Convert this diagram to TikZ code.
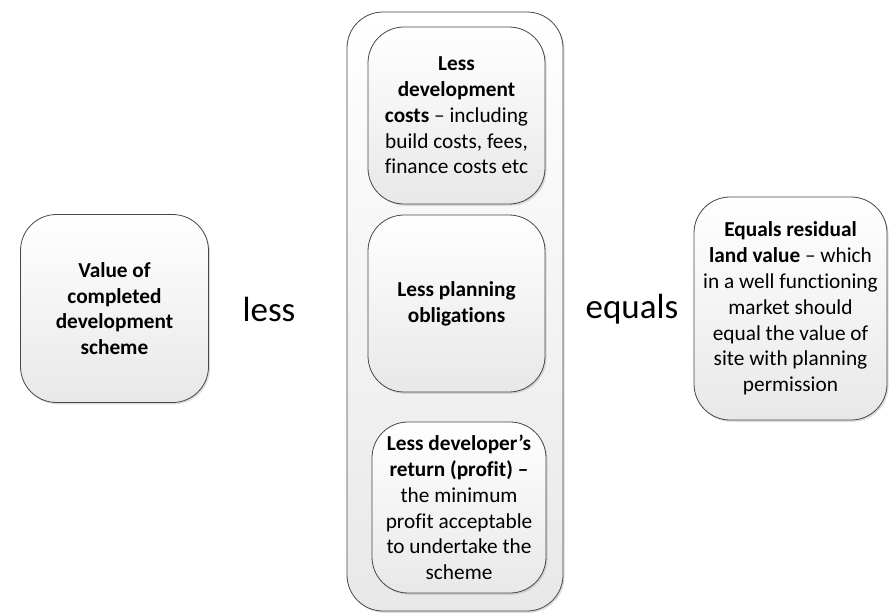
\documentclass[tikz,border=0pt]{standalone}
\usepackage{fontspec}
\setmainfont{Carlito}[Ligatures=NoCommon]
\usetikzlibrary{shadows}
\begin{document}
\begin{tikzpicture}[x=1pt,y=-1pt,
  box/.style={draw=black!72, line width=0.8pt, rounded corners=36pt,
    top color=white, bottom color=black!9, align=center, inner sep=0pt,
    drop shadow={shadow xshift=1.5pt, shadow yshift=-1.8pt, fill=black!30, opacity=0.45}},
  boxtext/.style={font=\fontsize{21.3}{25.8}\selectfont},
  bigword/.style={font=\fontsize{35}{40}\selectfont, inner sep=0pt}]
\useasboundingbox (0,0) rectangle (890,613);
\node[box, boxtext, minimum width=188pt, minimum height=188pt] (value) at (114.5,308.5)
  {\textbf{Value of}\\\textbf{completed}\\\textbf{development}\\\textbf{scheme}};
\node[bigword] (less) at (269,309) {less};
\node[box, minimum width=216pt, minimum height=599pt] (outer) at (455,311.5) {};
\node[box, boxtext, minimum width=177pt, minimum height=177pt] (costs) at (456.5,115.5)
  {\textbf{Less}\\\textbf{development}\\\textbf{costs} – including\\build costs, fees,\\finance costs etc};
\node[box, boxtext, minimum width=177pt, minimum height=177pt] (oblig) at (456.5,303.5)
  {\textbf{Less planning}\\\textbf{obligations}};
\node[box, boxtext, minimum width=174pt, minimum height=171pt] (profit) at (459,507.5)
  {\textbf{Less developer’s}\\\textbf{return (profit) –}\\the minimum\\profit acceptable\\to undertake the\\scheme};
\node[bigword] (equals) at (632,309) {equals};
\node[box, boxtext, minimum width=193pt, minimum height=223pt] (land) at (790.5,308.5)
  {\textbf{Equals residual}\\\textbf{land value} – which\\in a well functioning\\market should\\equal the value of\\site with planning\\permission};
\end{tikzpicture}
\end{document}
